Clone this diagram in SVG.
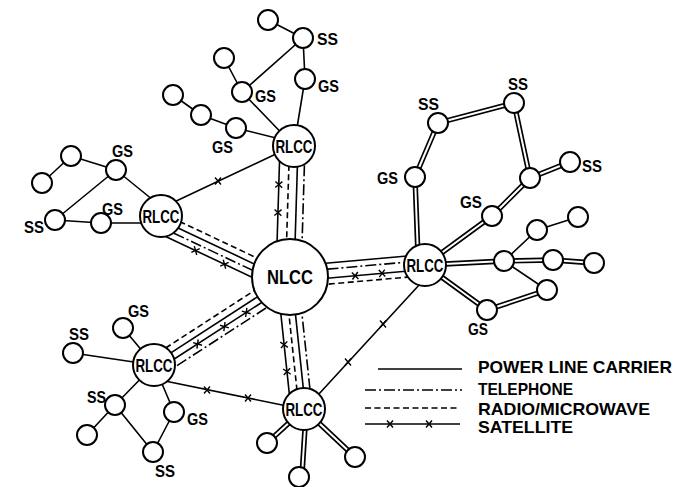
<svg xmlns="http://www.w3.org/2000/svg" xmlns:xlink="http://www.w3.org/1999/xlink" width="675" height="487" viewBox="0 0 675 487">
<style>
.n{fill:#fff;stroke:#000;stroke-width:2}
.e{fill:none;stroke:#000;stroke-width:1.6}
.b{fill:none;stroke:#000;stroke-width:1.6}
.rad{stroke-dasharray:6 3.5}
.tel{stroke-dasharray:11 3 2 3}
.xm{fill:none;stroke:#000;stroke-width:1.4}
.dout{fill:none;stroke:#000;stroke-width:5.4}
.din{fill:none;stroke:#fff;stroke-width:2}
text{font-family:"Liberation Sans",Arial,sans-serif;font-weight:bold;fill:#000}
.lb{font-size:17px}
.rl{font-size:18px;text-anchor:middle}
.nl{font-size:20px;text-anchor:middle}
.lg{font-size:17px}
</style>
<defs>
<path id="xm" class="xm" d="M-3,-3.5L3,3.5M3,-3.5L-3,3.5"/>
<path id="dbl" d="M418,256L415,177M415,177L438,123M438,123L514,103M514,103L530,178M530,178L570,162M530,178L492,216M492,216L425,265M425,265L504,261M504,261L553,260M553,260L594,263M547,290L487,310M487,310L425,265M304,409L267,443M306,412L302,475M304,409L355,457"/>
</defs>
<rect width="675" height="487" fill="#fff"/>
<g id="connectors">
<path class="e" d="M268,20L303,38M303,38L242,92M303,38L305,79M224,58L242,92M305,79L294,146M242,92L294,146M173,95L201,115M201,115L236,128M236,128L292,142M42,183L71,156M71,156L116,170M116,170L153,200M55,220L116,170M55,220L101,223M101,223L145,223M123,328L154,365M73,353L154,365M115,405L154,365M87,435L115,405M115,405L153,452M174,412L154,365M174,412L153,452M504,261L537,230M537,230L578,217M504,261L547,290"/>
<use xlink:href="#dbl" class="dout"/>
<use xlink:href="#dbl" class="din"/>
<path class="e" d="M172,203L278,153M420,284L318,395M165,381L287,406"/>
<use xlink:href="#xm" x="218" y="181"/>
<use xlink:href="#xm" x="383" y="324"/>
<use xlink:href="#xm" x="348" y="362"/>
<use xlink:href="#xm" x="207" y="390"/>
<use xlink:href="#xm" x="248" y="398"/>
<g id="bundle-top" transform="translate(294,146) rotate(91.75)">
<line class="b" x1="0" y1="14" x2="131" y2="14"/>
<line class="b rad" x1="0" y1="4.5" x2="131" y2="4.5"/>
<line class="b" x1="0" y1="-4" x2="131" y2="-4"/>
<line class="b tel" x1="0" y1="-11" x2="131" y2="-11"/>
<use xlink:href="#xm" x="39" y="14"/>
<use xlink:href="#xm" x="67" y="14"/>
</g>
<g id="bundle-left" transform="translate(161,216) rotate(25.3)">
<line class="b rad" x1="0" y1="-3" x2="143" y2="-3"/>
<line class="b" x1="0" y1="3.5" x2="143" y2="3.5"/>
<line class="b tel" x1="0" y1="10" x2="143" y2="10"/>
<line class="b" x1="0" y1="16.5" x2="143" y2="16.5"/>
<use xlink:href="#xm" x="46" y="16.5"/>
<use xlink:href="#xm" x="78" y="16.5"/>
</g>
<g id="bundle-bottomleft" transform="translate(154,365) rotate(-32.9)">
<line class="b rad" x1="0" y1="-8" x2="162" y2="-8"/>
<line class="b" x1="0" y1="-1" x2="162" y2="-1"/>
<line class="b" x1="0" y1="6" x2="162" y2="6"/>
<line class="b tel" x1="0" y1="13" x2="162" y2="13"/>
<use xlink:href="#xm" x="48" y="6"/>
<use xlink:href="#xm" x="80" y="6"/>
<use xlink:href="#xm" x="106" y="6"/>
</g>
<g id="bundle-bottom" transform="translate(304,409) rotate(-96.05)">
<line class="b" x1="0" y1="-13" x2="133" y2="-13"/>
<line class="b rad" x1="0" y1="-5" x2="133" y2="-5"/>
<line class="b" x1="0" y1="1.5" x2="133" y2="1.5"/>
<line class="b tel" x1="0" y1="8" x2="133" y2="8"/>
<use xlink:href="#xm" x="39" y="-13"/>
<use xlink:href="#xm" x="66" y="-13"/>
</g>
<g id="bundle-right" transform="translate(290,277) rotate(-5.08)">
<line class="b" x1="0" y1="-10.5" x2="135.5" y2="-10.5"/>
<line class="b tel" x1="0" y1="-4.5" x2="135.5" y2="-4.5"/>
<line class="b" x1="0" y1="4.5" x2="135.5" y2="4.5"/>
<line class="b rad" x1="0" y1="10.5" x2="135.5" y2="10.5"/>
<use xlink:href="#xm" x="65" y="4.5"/>
<use xlink:href="#xm" x="92" y="4.5"/>
</g>
</g>
<g id="nodes">
<g id="nlcc"><circle class="n" cx="290" cy="277" r="38"/><text class="nl" x="290" y="284" textLength="46" lengthAdjust="spacingAndGlyphs">NLCC</text></g>
<g id="rlcc-top"><circle class="n" cx="294" cy="146" r="21"/><text class="rl" x="294" y="153" textLength="37" lengthAdjust="spacingAndGlyphs">RLCC</text></g>
<g id="rlcc-left"><circle class="n" cx="161" cy="216" r="21"/><text class="rl" x="161" y="223" textLength="37" lengthAdjust="spacingAndGlyphs">RLCC</text></g>
<g id="rlcc-right"><circle class="n" cx="425" cy="265" r="21"/><text class="rl" x="425" y="272" textLength="37" lengthAdjust="spacingAndGlyphs">RLCC</text></g>
<g id="rlcc-bottomleft"><circle class="n" cx="154" cy="365" r="21"/><text class="rl" x="154" y="372" textLength="37" lengthAdjust="spacingAndGlyphs">RLCC</text></g>
<g id="rlcc-bottom"><circle class="n" cx="304" cy="409" r="21"/><text class="rl" x="304" y="416" textLength="37" lengthAdjust="spacingAndGlyphs">RLCC</text></g>

<g id="t1"><circle class="n" cx="268" cy="20" r="10"/></g>
<g id="t-ss"><circle class="n" cx="303" cy="38" r="10"/><text class="lb" x="317" y="45" textLength="21" lengthAdjust="spacingAndGlyphs">SS</text></g>
<g id="t2"><circle class="n" cx="224" cy="58" r="10"/></g>
<g id="t-gs1"><circle class="n" cx="305" cy="79" r="10"/><text class="lb" x="318" y="92" textLength="21" lengthAdjust="spacingAndGlyphs">GS</text></g>
<g id="t-gs2"><circle class="n" cx="242" cy="92" r="10"/><text class="lb" x="255" y="102" textLength="21" lengthAdjust="spacingAndGlyphs">GS</text></g>
<g id="t3"><circle class="n" cx="173" cy="95" r="10"/></g>
<g id="t4"><circle class="n" cx="201" cy="115" r="10"/></g>
<g id="t-gs3"><circle class="n" cx="236" cy="128" r="10"/><text class="lb" x="212" y="153" textLength="21" lengthAdjust="spacingAndGlyphs">GS</text></g>

<g id="l1"><circle class="n" cx="71" cy="156" r="10"/></g>
<g id="l2"><circle class="n" cx="42" cy="183" r="10"/></g>
<g id="l-gs1"><circle class="n" cx="116" cy="170" r="10"/><text class="lb" x="112" y="157" textLength="21" lengthAdjust="spacingAndGlyphs">GS</text></g>
<g id="l-ss"><circle class="n" cx="55" cy="220" r="10"/><text class="lb" x="24" y="233" textLength="20" lengthAdjust="spacingAndGlyphs">SS</text></g>
<g id="l-gs2"><circle class="n" cx="101" cy="223" r="10"/><text class="lb" x="102" y="215" textLength="21" lengthAdjust="spacingAndGlyphs">GS</text></g>

<g id="bl-gs1"><circle class="n" cx="123" cy="328" r="10"/><text class="lb" x="128" y="317" textLength="21" lengthAdjust="spacingAndGlyphs">GS</text></g>
<g id="bl-ss1"><circle class="n" cx="73" cy="353" r="10"/><text class="lb" x="69" y="340" textLength="20" lengthAdjust="spacingAndGlyphs">SS</text></g>
<g id="bl-ss2"><circle class="n" cx="115" cy="405" r="10"/><text class="lb" x="87" y="403" textLength="19" lengthAdjust="spacingAndGlyphs">SS</text></g>
<g id="bl1"><circle class="n" cx="87" cy="435" r="10"/></g>
<g id="bl-gs2"><circle class="n" cx="174" cy="412" r="10"/><text class="lb" x="187" y="425" textLength="21" lengthAdjust="spacingAndGlyphs">GS</text></g>
<g id="bl-ss3"><circle class="n" cx="153" cy="452" r="10"/><text class="lb" x="155" y="477" textLength="20" lengthAdjust="spacingAndGlyphs">SS</text></g>

<g id="b1"><circle class="n" cx="267" cy="443" r="10"/></g>
<g id="b2"><circle class="n" cx="299" cy="477" r="10"/></g>
<g id="b3"><circle class="n" cx="355" cy="457" r="10"/></g>

<g id="r-gs1"><circle class="n" cx="415" cy="177" r="10"/><text class="lb" x="377" y="184" textLength="21" lengthAdjust="spacingAndGlyphs">GS</text></g>
<g id="r-ss1"><circle class="n" cx="438" cy="123" r="10"/><text class="lb" x="418" y="110" textLength="21" lengthAdjust="spacingAndGlyphs">SS</text></g>
<g id="r-ss2"><circle class="n" cx="514" cy="103" r="10"/><text class="lb" x="508" y="90" textLength="20" lengthAdjust="spacingAndGlyphs">SS</text></g>
<g id="r1"><circle class="n" cx="530" cy="178" r="10"/></g>
<g id="r-ss3"><circle class="n" cx="570" cy="162" r="10"/><text class="lb" x="582" y="172" textLength="20" lengthAdjust="spacingAndGlyphs">SS</text></g>
<g id="r-gs2"><circle class="n" cx="492" cy="216" r="10"/><text class="lb" x="460" y="208" textLength="22" lengthAdjust="spacingAndGlyphs">GS</text></g>
<g id="r2"><circle class="n" cx="504" cy="261" r="10"/></g>
<g id="r3"><circle class="n" cx="553" cy="260" r="10"/></g>
<g id="r4"><circle class="n" cx="594" cy="263" r="10"/></g>
<g id="r5"><circle class="n" cx="537" cy="230" r="10"/></g>
<g id="r6"><circle class="n" cx="578" cy="217" r="10"/></g>
<g id="r7"><circle class="n" cx="547" cy="290" r="10"/></g>
<g id="r-gs3"><circle class="n" cx="487" cy="310" r="10"/><text class="lb" x="468" y="335" textLength="20" lengthAdjust="spacingAndGlyphs">GS</text></g>
</g>
<g id="legend">
<line class="b" x1="378" y1="369" x2="462" y2="369"/>
<line class="b tel" x1="365" y1="390" x2="462" y2="390"/>
<line class="b rad" x1="365" y1="408" x2="460" y2="408"/>
<line class="b" x1="365" y1="424" x2="460" y2="424"/>
<use xlink:href="#xm" x="390" y="424"/>
<use xlink:href="#xm" x="429" y="424"/>
<text class="lg" x="478" y="373" textLength="194" lengthAdjust="spacingAndGlyphs">POWER LINE CARRIER</text>
<text class="lg" x="478" y="395" textLength="95" lengthAdjust="spacingAndGlyphs">TELEPHONE</text>
<text class="lg" x="478" y="415" textLength="172" lengthAdjust="spacingAndGlyphs">RADIO/MICROWAVE</text>
<text class="lg" x="478" y="433" textLength="95" lengthAdjust="spacingAndGlyphs">SATELLITE</text>
</g>
</svg>
